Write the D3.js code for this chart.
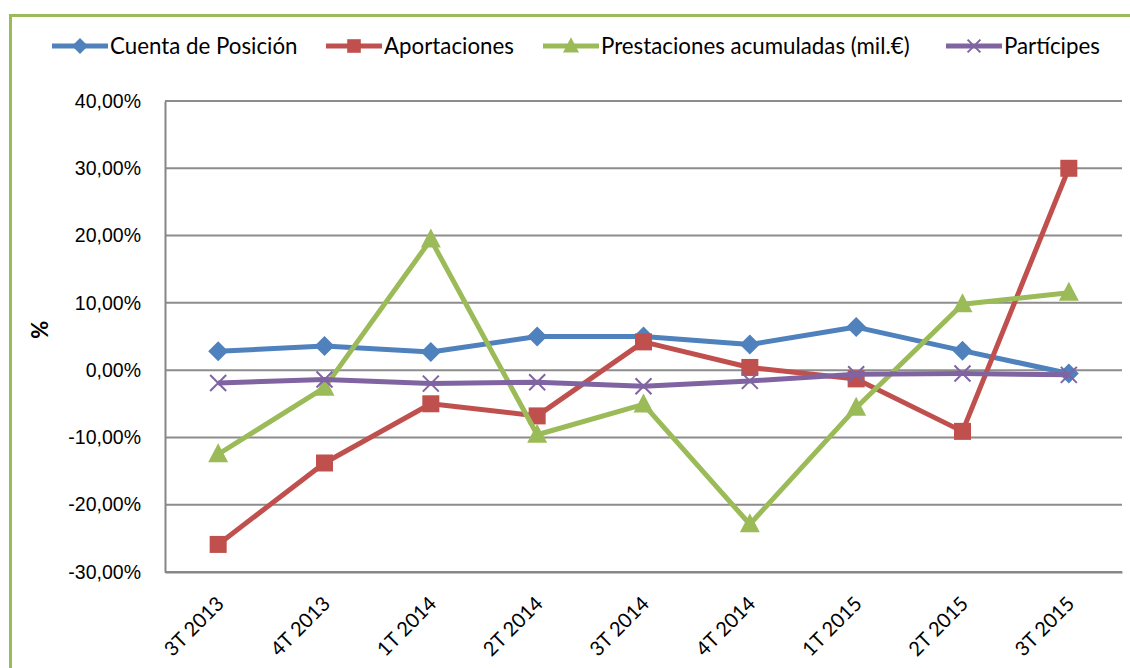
<!DOCTYPE html>
<html>
<head>
<meta charset="utf-8">
<script src="https://cdn.jsdelivr.net/npm/d3@7"></script>
<style>
  body { margin: 0; background: #fff; }
  svg { display: block; font-family: Lato, "Open Sans", sans-serif; }
</style>
</head>
<body>
<svg id="chart"></svg>
<script>
// quarters on the x axis
const quarters = ["3T 2013", "4T 2013", "1T 2014", "2T 2014", "3T 2014", "4T 2014", "1T 2015", "2T 2015", "3T 2015"];

// series values, in %
const cuentaPosicion = [2.8, 3.6, 2.7, 5.0, 5.0, 3.8, 6.4, 2.9, -0.5];
const aportaciones = [-25.9, -13.8, -5.0, -6.8, 4.2, 0.4, -1.3, -9.1, 30.0];
const prestaciones = [-12.5, -2.6, 19.4, -9.6, -5.1, -22.9, -5.6, 9.8, 11.5];
const participes = [-1.9, -1.4, -2.0, -1.8, -2.4, -1.6, -0.6, -0.5, -0.7];

const seriesNames = ["Cuenta de Posición", "Aportaciones", "Prestaciones acumuladas (mil.€)", "Partícipes"];
const yTicks = [-30, -20, -10, 0, 10, 20, 30, 40];

const colors = ["#4F81BD", "#C0504D", "#9BBB59", "#8064A2"];
const markers = ["diamond", "square", "triangle", "cross"];

const W = 1130, H = 668;
const margin = {top: 101, right: 8, bottom: 96, left: 165};
const width = W - margin.left - margin.right;
const height = H - margin.top - margin.bottom;

const svg = d3.select("#chart").attr("width", W).attr("height", H);

// green frame around the chart
svg.append("rect")
  .attr("x", 10.5).attr("y", 15.5)
  .attr("width", W + 20).attr("height", H + 20)
  .attr("fill", "none")
  .attr("stroke", "#9BBB59")
  .attr("stroke-width", 3);

const g = svg.append("g").attr("transform", `translate(${margin.left},${margin.top})`);

const x = d3.scaleBand().domain(quarters).range([0, width]);
const y = d3.scaleLinear().domain([-30, 40]).range([height, 0]);
const cx = d => x(d) + x.bandwidth() / 2;

// gridlines
g.append("g")
  .selectAll("line")
  .data(yTicks)
  .join("line")
  .attr("x1", 0).attr("x2", width)
  .attr("y1", d => y(d)).attr("y2", d => y(d))
  .attr("stroke", "#8C8C8C")
  .attr("stroke-width", 2);

// y axis
const yAxis = g.append("g")
  .call(d3.axisLeft(y).tickValues(yTicks).tickSize(0).tickPadding(24)
    .tickFormat(d => d.toFixed(2).replace(".", ",") + "%"));
yAxis.select(".domain").attr("stroke", "#868686").attr("stroke-width", 2);
yAxis.selectAll("text").attr("font-size", 19.5).attr("fill", "#000");

// x axis
const xAxis = g.append("g")
  .attr("transform", `translate(0,${height})`)
  .call(d3.axisBottom(x).tickSize(0).tickFormat(""));
xAxis.select(".domain").attr("stroke", "#868686").attr("stroke-width", 2);

g.append("g")
  .selectAll("text")
  .data(quarters)
  .join("text")
  .attr("transform", d => `translate(${cx(d) + 2},${height + 28}) rotate(-45)`)
  .attr("text-anchor", "end")
  .attr("dy", "0.35em")
  .attr("font-size", 20)
  .text(d => d);

// y axis title
svg.append("text")
  .attr("transform", `translate(48,${margin.top + y(6)}) rotate(-90)`)
  .attr("text-anchor", "middle")
  .attr("font-size", 22)
  .attr("font-weight", "bold")
  .text("%");

function drawMarker(sel, type, color, s) {
  if (type === "diamond") {
    sel.append("path").attr("d", `M0,${-s}L${s},0L0,${s}L${-s},0Z`).attr("fill", color);
  } else if (type === "square") {
    sel.append("rect").attr("x", -s * 0.85).attr("y", -s * 0.85)
      .attr("width", s * 1.7).attr("height", s * 1.7).attr("fill", color);
  } else if (type === "triangle") {
    sel.append("path").attr("d", `M0,${-s * 1.1}L${s},${s * 0.8}L${-s},${s * 0.8}Z`).attr("fill", color);
  } else {
    sel.append("path").attr("d", `M${-s * 0.8},${-s * 0.8}L${s * 0.8},${s * 0.8}M${s * 0.8},${-s * 0.8}L${-s * 0.8},${s * 0.8}`)
      .attr("stroke", color).attr("stroke-width", 2).attr("fill", "none");
  }
}

const allSeries = [cuentaPosicion, aportaciones, prestaciones, participes];
const line = d3.line().x((d, i) => cx(quarters[i])).y(d => y(d));

allSeries.forEach((vals, k) => {
  const sg = g.append("g");
  sg.append("path")
    .datum(vals)
    .attr("d", line)
    .attr("fill", "none")
    .attr("stroke", colors[k])
    .attr("stroke-width", 5)
    .attr("stroke-linejoin", "round");
  vals.forEach((v, i) => {
    const m = sg.append("g").attr("transform", `translate(${cx(quarters[i])},${y(v)})`);
    drawMarker(m, markers[k], colors[k], 10);
  });
});

// legend
const legendX = [52, 326, 543, 946];
const legend = svg.append("g").attr("transform", "translate(0,46)");
seriesNames.forEach((name, k) => {
  const lg = legend.append("g").attr("transform", `translate(${legendX[k]},0)`);
  lg.append("line").attr("x1", 0).attr("x2", 56).attr("stroke", colors[k]).attr("stroke-width", 5);
  drawMarker(lg.append("g").attr("transform", "translate(28,0)"), markers[k], colors[k], 8);
  lg.append("text").attr("x", 58).attr("dy", "0.35em").attr("font-size", 22.3).text(name);
});
</script>
</body>
</html>
